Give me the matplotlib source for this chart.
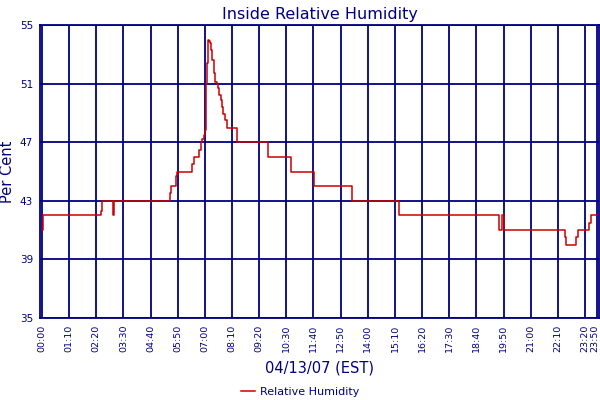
import matplotlib
matplotlib.use("Agg")
import matplotlib.pyplot as plt
from matplotlib.transforms import ScaledTranslation

# Data: minutes after midnight (change points) and relative humidity (%)
minutes = [0, 4, 151, 154, 182, 184, 187, 331, 333, 346, 348, 388, 391, 406, 409,
           413, 417, 420, 422, 423, 425, 427, 429, 431, 433, 436, 439, 444, 446,
           450, 454, 457, 461, 463, 467, 472, 476, 504, 584, 641, 702, 798, 921,
           1177, 1186, 1192, 1348, 1351, 1377, 1381, 1410, 1415, 1432]
humidity = [41, 42, 42.3, 43, 42.3, 42, 43, 43.5, 44, 44.7, 45, 45.5, 46, 46.5, 47,
            47.2, 47.5, 47.8, 49, 51, 52.4, 53.5, 54, 53.9, 53.75, 53.3, 52.6, 51.7,
            51.1, 51.0, 50.7, 50.2, 49.9, 49.4, 48.9, 48.5, 48.0, 47, 46, 45, 44, 43,
            42, 41, 42, 41, 40.5, 40, 40.5, 41, 41.5, 42, 42]

tick_minutes = [0, 70, 140, 210, 280, 350, 420, 490, 560, 630, 700, 770, 840, 910,
                980, 1050, 1120, 1190, 1260, 1330, 1400, 1430]
tick_labels = ["00:00", "01:10", "02:20", "03:30", "04:40", "05:50", "07:00", "08:10",
               "09:20", "10:30", "11:40", "12:50", "14:00", "15:10", "16:20", "17:30",
               "18:40", "19:50", "21:00", "22:10", "23:20", "23:50"]
y_ticks = [35, 39, 43, 47, 51, 55]

navy = "#000080"
red = "#CC0000"

plt.rcParams['font.family'] = ['DejaVu Sans']

fig = plt.figure(figsize=(6, 4), dpi=100)
ax = fig.add_axes([40/600, 1-318/400, (599-40)/600, (318-25)/400])

ax.plot(minutes, humidity, drawstyle='steps-post', color=red, lw=1.1,
        label="Relative Humidity", zorder=3)

ax.set_xlim(-5, 1436)
ax.set_ylim(35, 55)
ax.set_xticks(tick_minutes)
ax.set_xticklabels(tick_labels, rotation=90, fontsize=6.8, color=navy)
ax.set_yticks(y_ticks)
ax.set_yticklabels([str(v) for v in y_ticks], fontsize=7.5, color=navy)
ax.tick_params(length=0, pad=5)
ax.tick_params(axis='x', pad=5)

# nudge the last x tick label so it stays inside the picture
last = ax.get_xticklabels()[-1]
last.set_transform(last.get_transform() + ScaledTranslation(-2/100, 0, fig.dpi_scale_trans))

ax.grid(True, color=navy, lw=1.3, zorder=1)
ax.set_axisbelow(True)
for s in ax.spines.values():
    s.set_color(navy)
    s.set_linewidth(1.3)

ax.set_title("Inside Relative Humidity", fontsize=11.5, color=navy, pad=4)
ax.set_xlabel("04/13/07 (EST)", fontsize=10.5, color=navy, labelpad=6)
ax.set_ylabel("Per Cent", fontsize=10.5, color=navy)
ax.yaxis.set_label_coords(-0.045, 0.5)

fig.legend(loc='lower center', bbox_to_anchor=(0.5, -0.018), frameon=False,
           fontsize=8, labelcolor=navy, handlelength=1.3, handletextpad=0.4)

fig.savefig("out.png", dpi=100, facecolor="white")
